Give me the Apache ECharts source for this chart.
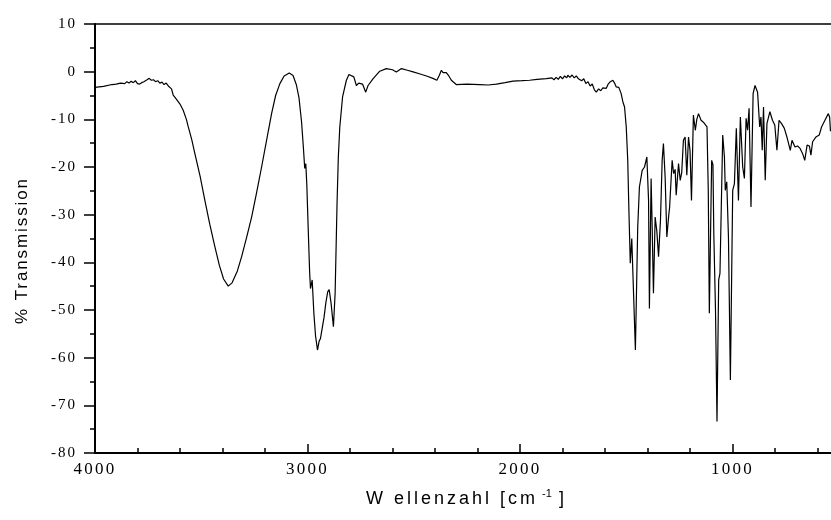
<!DOCTYPE html>
<html><head><meta charset="utf-8">
<script src="https://cdn.jsdelivr.net/npm/echarts@6/dist/echarts.min.js"></script>
<style>html,body{margin:0;padding:0;background:#fff}#c{width:831px;height:520px}</style>
</head><body><div id="c"></div>
<script>
const wavenumbers = [
4000,3960,3920,3900,3880,3860,3850,3840,3830,3820,3810,3800,3790,3780,3770,3755,3745,3735,3725,3715,3705,3695,3685,3675,3665,3655,3648,3640,3632,3620,3600,3585,3570,3561,3545,3530,3505,3483,3460,3436,3415,3395,3373,3355,3330,3310,3285,3263,3240,3216,3190,3169,3150,3130,3110,3086,3068,3052,3040,3028,3020,3013,3008,3003,2997,2990,2986,2978,2970,2962,2953,2945,2939,2931,2922,2914,2905,2898,2889,2878,2870,2861,2855,2848,2835,2817,2805,2796,2782,2770,2759,2741,2726,2715,2692,2660,2629,2600,2582,2558,2530,2503,2470,2440,2410,2391,2380,2370,2362,2355,2347,2335,2323,2300,2250,2190,2150,2111,2070,2033,1990,1955,1920,1876,1850,1840,1830,1820,1810,1800,1790,1780,1775,1765,1755,1745,1735,1725,1720,1710,1700,1690,1680,1670,1660,1650,1641,1630,1620,1610,1594,1585,1575,1563,1555,1547,1535,1524,1516,1508,1500,1493,1487,1481,1474,1466,1457,1446,1438,1425,1414,1403,1395,1391,1383,1378,1372,1364,1356,1348,1339,1331,1325,1317,1309,1300,1296,1284,1277,1270,1265,1254,1246,1239,1231,1223,1215,1207,1200,1193,1184,1175,1168,1160,1148,1137,1128,1120,1114,1109,1098,1092,1088,1080,1073,1065,1059,1046,1038,1034,1027,1019,1010,999,991,982,972,963,952,944,936,929,922,913,903,894,882,872,866,860,854,846,838,824,812,801,791,781,769,756,744,728,720,706,694,682,670,660,649,638,631,623,607,592,581,565,549,543,539
];
const transmission = [
-3.3,-3.1,-2.7,-2.6,-2.4,-2.5,-2.1,-2.4,-2.0,-2.3,-1.9,-2.5,-2.6,-2.3,-2.1,-1.7,-1.4,-1.8,-1.7,-2.1,-1.9,-2.4,-2.2,-2.7,-2.4,-3.0,-2.6,-3.6,-4.9,-5.6,-6.8,-8.1,-10.0,-11.6,-14.2,-17.2,-22.0,-27.0,-32.0,-36.7,-40.6,-43.5,-45.0,-44.3,-41.8,-38.8,-34.5,-30.5,-25.5,-20.0,-13.8,-8.8,-5.0,-2.5,-0.9,-0.3,-0.8,-2.8,-5.5,-10.5,-15.5,-20.3,-19.3,-24.0,-32.5,-42.0,-45.5,-43.7,-50.7,-55.5,-58.4,-56.5,-56.0,-56.0,-51.5,-48.6,-46.2,-45.7,-48.6,-53.5,-46.5,-27.7,-18.0,-11.6,-5.3,-1.8,-0.6,-0.3,-1.1,-2.9,-2.4,-2.6,-4.3,-2.9,-1.5,0.1,0.65,0.4,-0.05,0.65,0.3,-0.05,-0.5,-0.9,-1.4,-1.8,-0.8,0.3,-0.2,-0.6,-0.2,-0.9,-1.8,-2.7,-2.6,-2.7,-2.8,-2.6,-2.3,-2.0,-1.9,-1.8,-1.6,-1.45,-1.3,-1.7,-1.2,-1.6,-1.0,-1.5,-0.9,-1.3,-0.75,-1.2,-0.7,-1.3,-0.9,-1.5,-1.1,-1.9,-1.5,-2.5,-2.1,-3.0,-2.6,-3.8,-4.3,-3.6,-4.0,-3.4,-3.5,-2.6,-2.1,-1.8,-2.4,-3.2,-3.3,-4.6,-6.3,-7.4,-11.6,-18.6,-30.0,-40.2,-35.0,-35.3,-58.4,-32.6,-24.2,-20.7,-20.0,-17.9,-27.0,-49.7,-22.4,-32.6,-46.5,-30.5,-33.5,-38.8,-31.2,-18.6,-15.1,-22.1,-34.7,-30.1,-28.5,-18.6,-21.4,-20.5,-25.9,-19.3,-22.8,-21.2,-14.4,-13.7,-21.7,-13.7,-16.5,-27.0,-9.1,-12.3,-10.0,-8.8,-10.2,-10.6,-10.9,-11.6,-25.0,-50.7,-18.6,-19.5,-33.9,-50.0,-73.4,-43.7,-42.3,-13.3,-17.9,-24.9,-23.1,-34.7,-64.7,-24.9,-23.5,-11.9,-27.0,-9.5,-20.0,-22.4,-9.8,-12.3,-7.7,-28.4,-4.6,-2.9,-4.3,-11.6,-9.5,-16.5,-7.4,-22.8,-10.9,-8.4,-10.2,-11.2,-16.5,-10.2,-10.9,-11.9,-13.7,-16.5,-14.4,-15.8,-15.6,-16.1,-17.2,-18.6,-15.4,-15.6,-17.5,-14.7,-13.7,-13.3,-11.6,-10.2,-8.8,-9.5,-12.5
];
const xTickLabels = [4000, 3000, 2000, 1000];
const yTitle = '% Transmission';
const xTitleMain = 'W ellenzahl [cm';
const xTitleSup = '-1';
const xTitleEnd = ']';

// letter spacing as in the original export
(function () {
  const proto = CanvasRenderingContext2D.prototype;
  const orig = proto.fillText;
  const spacing = [
    [/17px.*Liberation Serif/, '2.2px'],
    [/15px.*Liberation Serif/, '2px'],
    [/17px.*Liberation Sans/, '1.9px'],
    [/18px.*Liberation Sans/, '3px']
  ];
  proto.fillText = function (t, x, y, m) {
    const f = this.font || '';
    let ls = '0px';
    for (const [re, v] of spacing) { if (re.test(f)) { ls = v; break; } }
    const prev = this.letterSpacing;
    try { this.letterSpacing = ls; } catch (e) {}
    if (m === undefined) orig.call(this, t, x, y); else orig.call(this, t, x, y, m);
    try { this.letterSpacing = prev; } catch (e) {}
  };
})();

const data = wavenumbers.map((w, i) => [w, transmission[i]]);
const chart = echarts.init(document.getElementById('c'), null, { renderer: 'canvas' });
chart.setOption({
  animation: false,
  backgroundColor: '#fff',
  grid: { left: 95, top: 24, width: 850, height: 429, show: true, borderColor: '#000', borderWidth: 1.5,
          backgroundColor: 'transparent', containLabel: false, outerBoundsMode: 'none' },
  xAxis: {
    type: 'value', min: 0, max: 4000, interval: 1000, inverse: true,
    axisLine: { show: true, onZero: false, lineStyle: { color: '#000', width: 2 } },
    axisTick: { show: true, inside: true, length: 9, lineStyle: { color: '#000', width: 1.5 } },
    minorTick: { show: true, splitNumber: 5, length: 5, lineStyle: { color: '#000', width: 1.5 } },
    splitLine: { show: false }, minorSplitLine: { show: false },
    axisLabel: { color: '#000', fontFamily: 'Liberation Serif', fontSize: 17, margin: 8,
      formatter: v => (xTickLabels.indexOf(v) >= 0 ? String(v) : '') }
  },
  yAxis: {
    type: 'value', min: -80, max: 10, interval: 10,
    axisLine: { show: true, onZero: false, lineStyle: { color: '#000', width: 2 } },
    axisTick: { show: true, inside: false, length: 11, lineStyle: { color: '#000', width: 1.5 } },
    minorTick: { show: true, splitNumber: 2, length: 5, lineStyle: { color: '#000', width: 1.5 } },
    splitLine: { show: false }, minorSplitLine: { show: false },
    axisLabel: { color: '#000', fontFamily: 'Liberation Serif', fontSize: 15, margin: 18 }
  },
  series: [{
    type: 'line', data: data, symbol: 'none', showSymbol: false, smooth: false, clip: true,
    lineStyle: { color: '#000', width: 1.2 }
  }],
  graphic: [
    { type: 'text', x: 22, y: 250.5, rotation: Math.PI / 2,
      style: { text: yTitle, fontSize: 17, fontFamily: 'Liberation Sans', fill: '#000', align: 'center', verticalAlign: 'middle' } },
    { type: 'text', x: 366, y: 499,
      style: { text: xTitleMain, fontSize: 18, fontFamily: 'Liberation Sans', fill: '#000', align: 'left', verticalAlign: 'middle' } },
    { type: 'text', x: 542, y: 494,
      style: { text: xTitleSup, fontSize: 11, fontFamily: 'Liberation Sans', fill: '#000', align: 'left', verticalAlign: 'middle' } },
    { type: 'text', x: 559, y: 499,
      style: { text: xTitleEnd, fontSize: 18, fontFamily: 'Liberation Sans', fill: '#000', align: 'left', verticalAlign: 'middle' } }
  ]
});
</script>
</body></html>
